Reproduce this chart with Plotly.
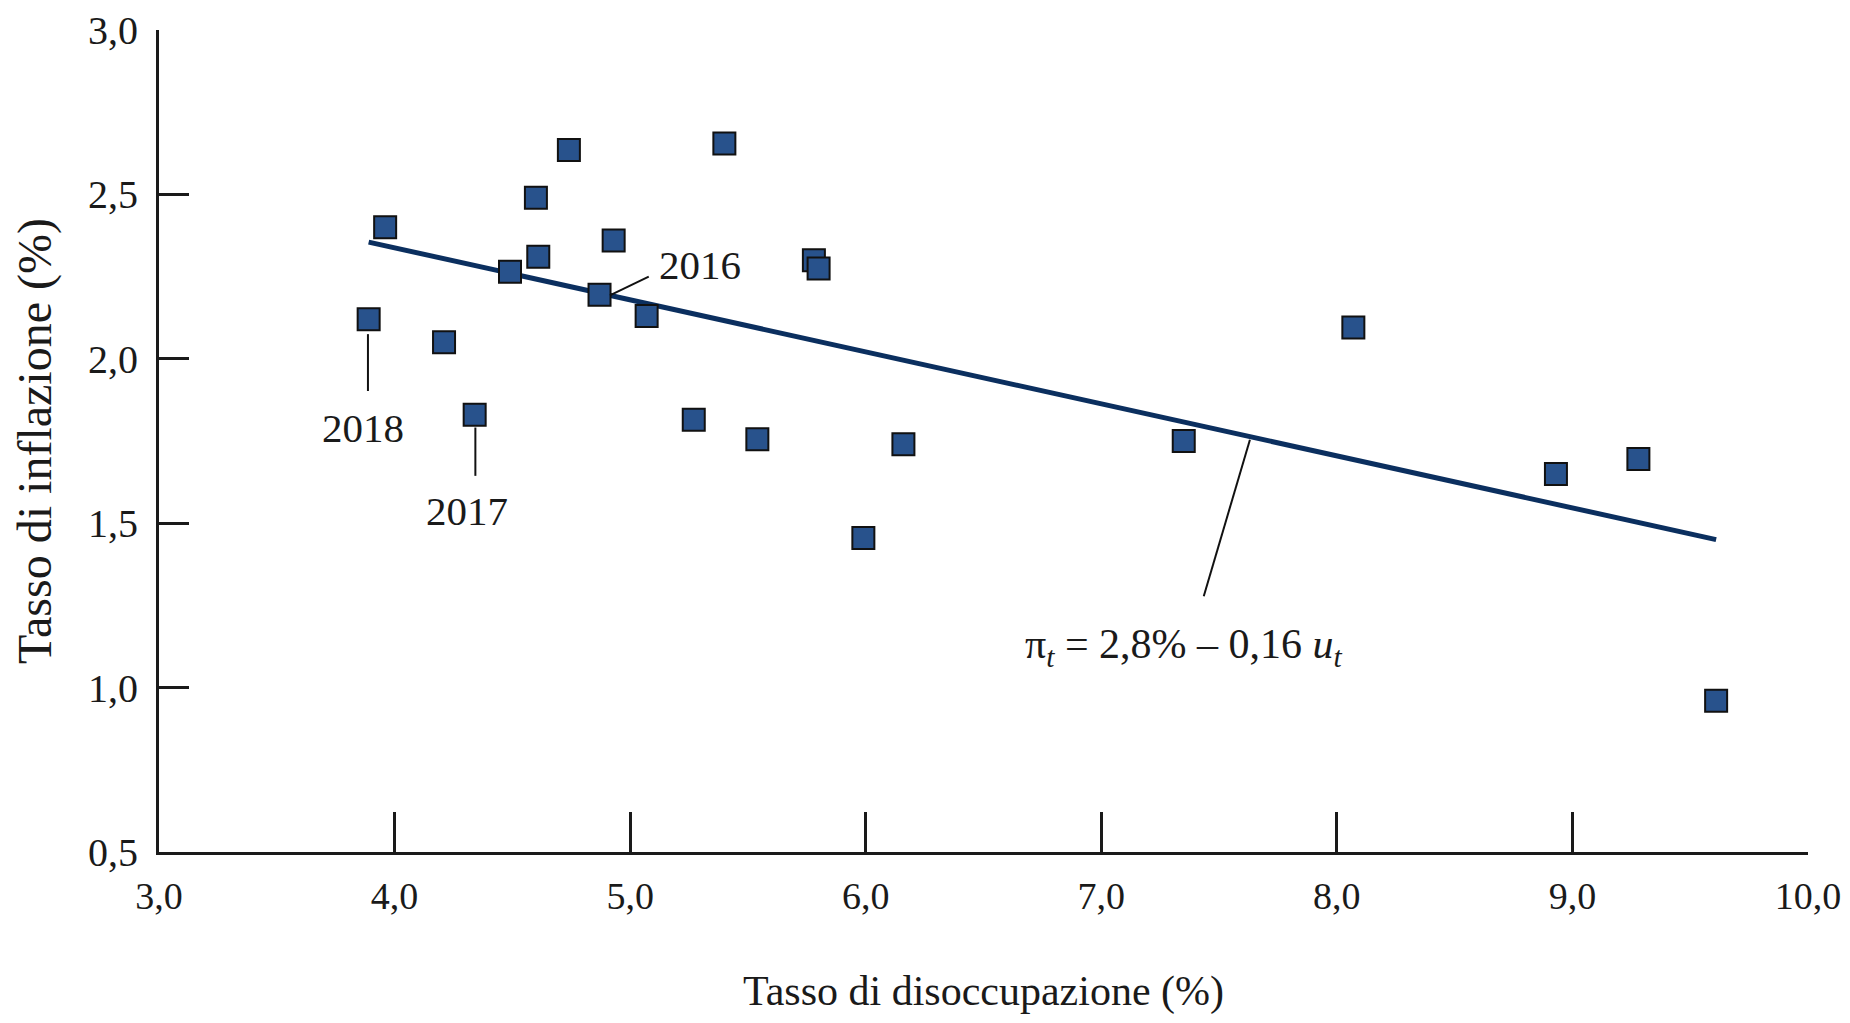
import plotly.graph_objects as go

# Data
unemployment = [3.89, 3.96, 4.21, 4.34, 4.49, 4.60, 4.61, 4.74, 4.87, 4.93, 5.07, 5.27,
                5.40, 5.54, 5.78, 5.80, 5.99, 6.16, 7.35, 8.07, 8.93, 9.28, 9.61]
inflation = [2.12, 2.40, 2.05, 1.83, 2.265, 2.49, 2.31, 2.635, 2.195, 2.36, 2.13, 1.815,
             2.655, 1.755, 2.30, 2.275, 1.455, 1.74, 1.75, 2.095, 1.65, 1.695, 0.96]
trend_x = [3.89, 9.61]
trend_y = [2.355, 1.45]

x_ticks = [3, 4, 5, 6, 7, 8, 9, 10]
y_ticks = [0.5, 1.0, 1.5, 2.0, 2.5, 3.0]

FONT = "Liberation Serif"

fig = go.Figure()
fig.add_trace(go.Scatter(
    x=trend_x, y=trend_y, mode="lines",
    line=dict(color="#0b2f5f", width=5), hoverinfo="skip", showlegend=False))
fig.add_trace(go.Scatter(
    x=unemployment, y=inflation, mode="markers",
    marker=dict(symbol="square", size=22, color="#28528c",
                line=dict(color="#111111", width=2)),
    showlegend=False))

# Leader lines (label callouts)
leaders = [
    (3.887, 2.075, 3.887, 1.902),
    (4.343, 1.791, 4.343, 1.644),
    (4.914, 2.193, 5.079, 2.25),
    (7.631, 1.754, 7.435, 1.278),
]
for x0, y0, x1, y1 in leaders:
    fig.add_shape(type="line", xref="x", yref="y", x0=x0, y0=y0, x1=x1, y1=y1,
                  line=dict(color="#111111", width=2))

labels = [
    ("2018", 3.867, 1.79, 41),
    ("2017", 4.308, 1.537, 41),
    ("2016", 5.295, 2.284, 41),
    ("π<sub><i>t</i></sub> = 2,8% – 0,16 <i>u<sub>t</sub></i>", 7.349, 1.124, 42),
]
for txt, x, y, fs in labels:
    fig.add_annotation(x=x, y=y, xref="x", yref="y", text=txt, showarrow=False,
                       font=dict(family=FONT, size=fs, color="#1a1a1a"),
                       xanchor="center", yanchor="middle")

fig.update_layout(
    width=1834, height=1007,
    margin=dict(l=151, r=34, t=22, b=163),
    plot_bgcolor="white", paper_bgcolor="white",
    separators=",.",
    font=dict(family=FONT, size=38, color="#1a1a1a"),
)
fig.update_xaxes(
    range=[3, 10], tickvals=x_ticks, tickformat=".1f", automargin=False,
    showline=True, linecolor="#1a1a1a", linewidth=3,
    ticks="inside", ticklen=40, tickwidth=2.5, tickcolor="#1a1a1a",
    showgrid=False, zeroline=False, ticklabelstandoff=8,
    ticklabeloverflow="allow",
    tickfont=dict(family=FONT, size=38),
    title=dict(text="Tasso di disoccupazione (%)", standoff=72,
               font=dict(family=FONT, size=42)),
)
fig.update_yaxes(
    range=[0.5, 3.0], tickvals=y_ticks, tickformat=".1f", automargin=False,
    showline=True, linecolor="#1a1a1a", linewidth=3,
    ticks="inside", ticklen=30, tickwidth=2.5, tickcolor="#1a1a1a",
    showgrid=False, zeroline=False, ticklabelstandoff=10,
    ticklabeloverflow="allow",
    tickfont=dict(family=FONT, size=40),
    title=dict(text="Tasso di inflazione (%)", standoff=24,
               font=dict(family=FONT, size=48)),
)

fig.write_html("out.html")
